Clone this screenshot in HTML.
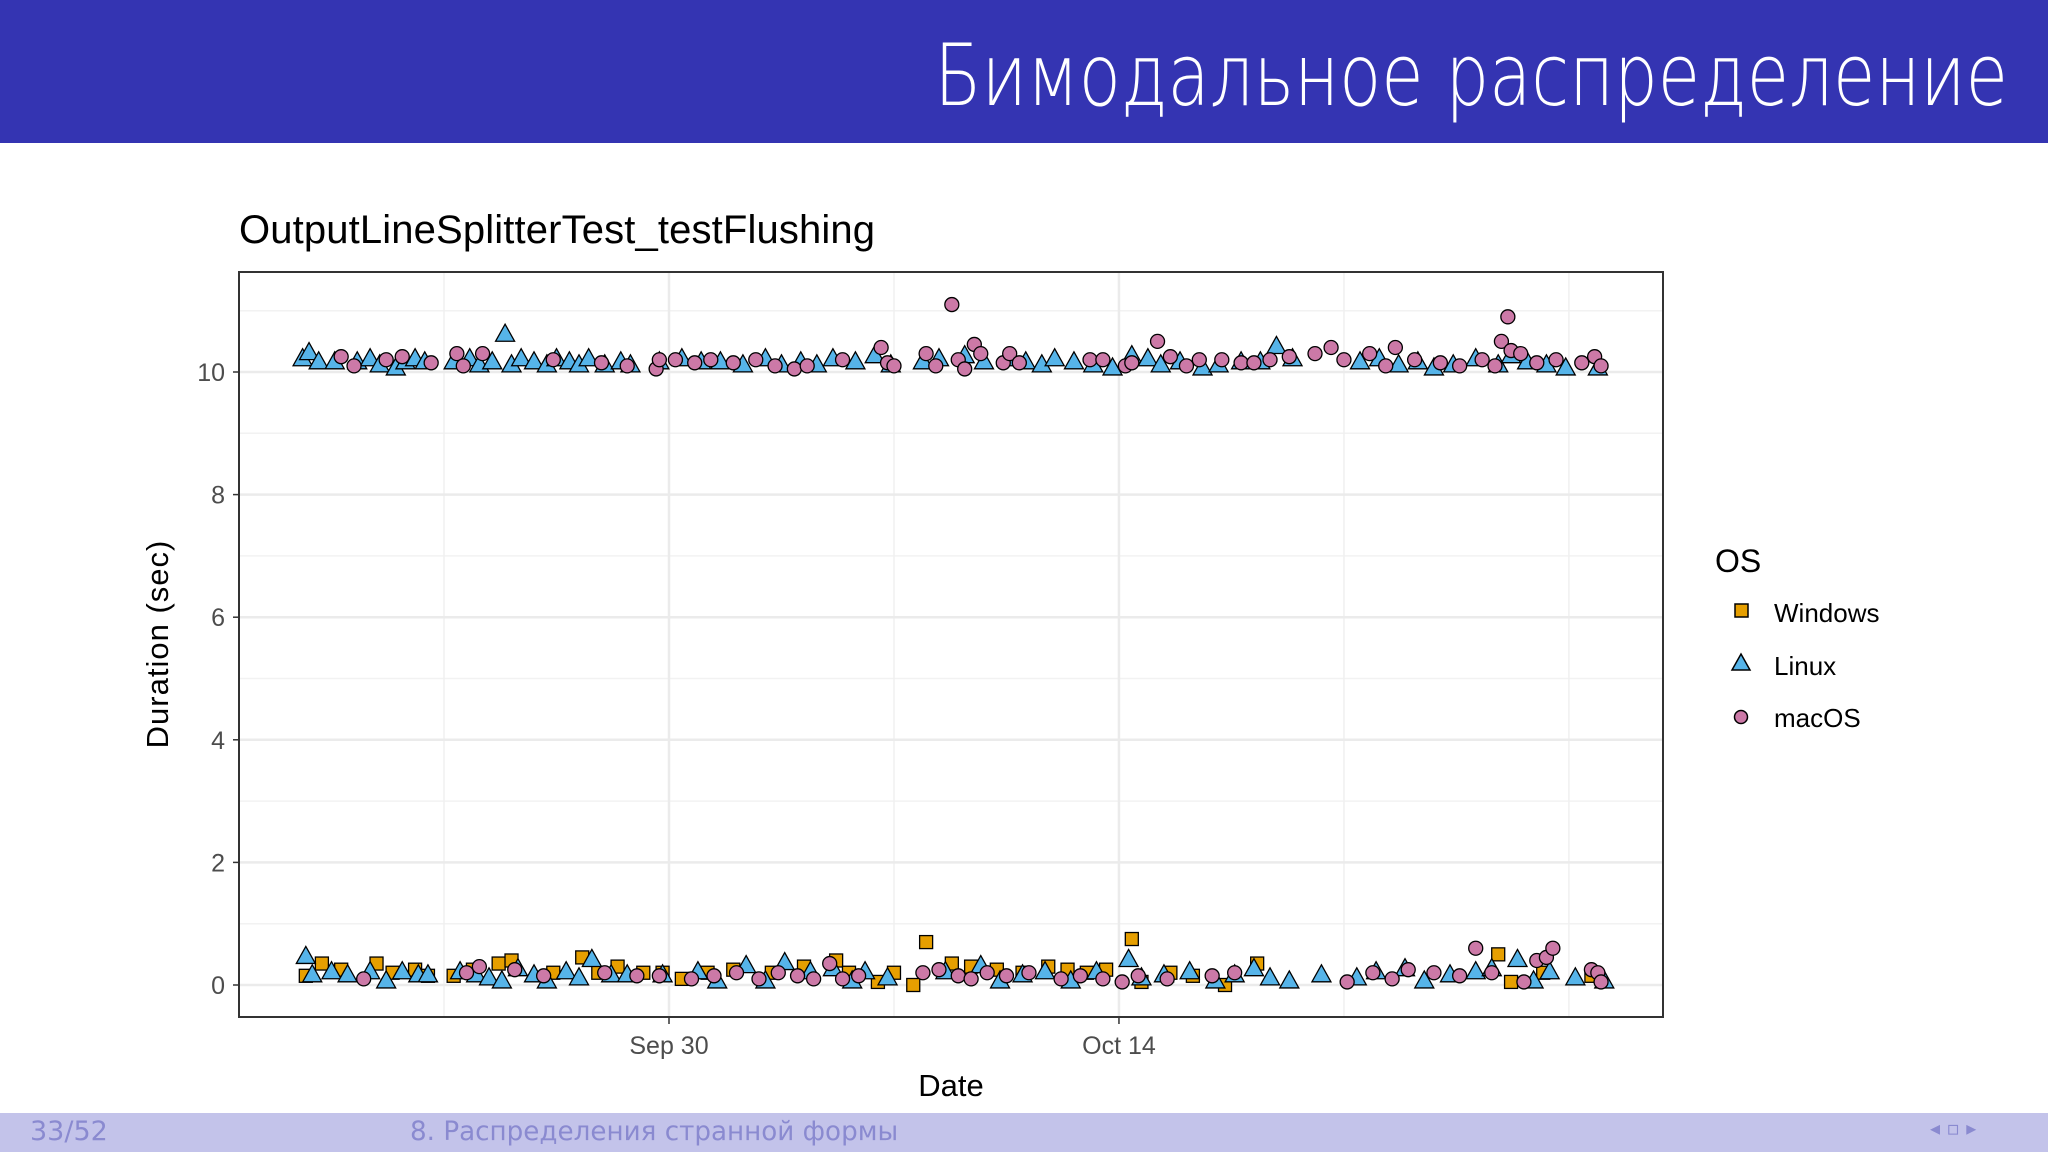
<!DOCTYPE html>
<html><head><meta charset="utf-8"><style>
body{margin:0;width:2048px;height:1152px;overflow:hidden;background:#fff;font-family:"Liberation Sans",sans-serif}
#hdr{position:absolute;left:0;top:0;width:2048px;height:143px;background:#3434b2}
#hdr span{position:absolute;right:40px;top:26px;color:#fff;font-size:86px;font-family:"DejaVu Sans","Liberation Sans",sans-serif;font-weight:200;transform:scaleX(0.8);transform-origin:right center;white-space:nowrap}
#ftr{position:absolute;left:0;top:1113px;width:2048px;height:39px;background:#c3c3ea;color:#8a8ad0;font-size:27px;font-family:"DejaVu Sans",sans-serif}
svg{position:absolute;left:0;top:0}
</style></head><body>
<div id="hdr"><span>Бимодальное распределение</span></div>
<div id="ftr">
<span style="position:absolute;left:30px;top:3px">33/52</span>
<span style="position:absolute;left:410px;top:3px;transform:scaleX(0.97);transform-origin:left">8. Распределения странной формы</span>
<span style="position:absolute;left:1930px;top:3px;font-size:20px">◂ ▫ ▸</span>
</div>
<svg id="chart" width="2048" height="1152">
<text x="239" y="243" font-size="40" fill="#000" textLength="636">OutputLineSplitterTest_testFlushing</text>
<g id="grid"></g><g id="marks"></g><g id="axes"></g>
<text x="951" y="1096" font-size="31" text-anchor="middle">Date</text>
<text transform="translate(168,644) rotate(-90)" font-size="31" text-anchor="middle" letter-spacing="1">Duration (sec)</text>
<g>
<text x="1715" y="572" font-size="32">OS</text>
<g><rect x="1735" y="604" width="13" height="13" fill="#e69f00" stroke="#000" stroke-width="1.5"/><text x="1774" y="622" font-size="26">Windows</text></g>
<g><polygon points="1741,654 1750,670 1732,670" fill="#56b4e9" stroke="#000" stroke-width="1.5"/><text x="1774" y="675" font-size="26">Linux</text></g>
<g><circle cx="1741" cy="717" r="6.5" fill="#cc79a7" stroke="#000" stroke-width="1.5"/><text x="1774" y="727" font-size="26">macOS</text></g>
</g>
</svg>
<script>
const yTicks=[0,2,4,6,8,10];
const xTickDays=[0,14];
const xTickLabels=["Sep 30","Oct 14"];
const xMinorDays=[-7,7,21,28];
const linuxDays=[-11.4,-11.2,-10.9,-10.4,-9.7,-9.3,-9.0,-8.5,-8.2,-7.9,-7.6,-6.7,-6.2,-5.9,-5.5,-5.1,-4.9,-4.6,-4.2,-3.8,-3.5,-3.1,-2.8,-2.5,-2.0,-1.5,-1.2,-0.3,0.4,1.0,1.6,2.3,3.0,3.5,4.1,4.6,5.1,5.8,6.4,6.9,7.9,8.4,9.2,9.8,10.5,11.1,11.6,12.0,12.6,13.2,13.8,14.4,14.9,15.3,15.9,16.6,17.1,17.8,18.4,18.9,19.4,21.5,22.1,22.7,23.3,23.8,24.4,25.1,25.8,26.2,26.7,27.3,27.9,28.9,
-11.3,-11.1,-10.5,-10.0,-9.3,-8.8,-8.3,-7.8,-7.5,-6.5,-6.0,-5.6,-5.2,-4.7,-4.2,-3.8,-3.2,-2.8,-2.4,-1.8,-1.3,-0.2,0.9,1.5,2.4,3.0,3.6,4.4,5.1,5.7,6.1,6.8,8.6,9.7,10.3,11.0,11.7,12.5,13.3,14.3,14.7,15.4,16.2,17.0,17.6,18.2,18.7,19.3,20.3,21.4,22.0,22.9,23.5,24.3,25.1,25.6,26.4,26.9,27.4,28.2,29.1];
const linuxVals=[10.2,10.3,10.15,10.15,10.15,10.2,10.1,10.05,10.15,10.2,10.15,10.15,10.2,10.1,10.15,10.6,10.1,10.2,10.15,10.1,10.2,10.15,10.1,10.2,10.1,10.15,10.1,10.15,10.2,10.15,10.15,10.1,10.2,10.1,10.15,10.1,10.2,10.15,10.25,10.1,10.15,10.2,10.25,10.15,10.2,10.15,10.1,10.2,10.15,10.1,10.05,10.25,10.2,10.1,10.15,10.05,10.1,10.15,10.15,10.4,10.2,10.15,10.2,10.1,10.15,10.05,10.1,10.2,10.1,10.25,10.15,10.1,10.05,10.05,
0.45,0.15,0.2,0.15,0.2,0.05,0.2,0.15,0.15,0.2,0.15,0.1,0.05,0.25,0.15,0.05,0.2,0.1,0.4,0.15,0.15,0.15,0.2,0.05,0.3,0.05,0.35,0.2,0.25,0.05,0.2,0.1,0.2,0.3,0.05,0.15,0.2,0.05,0.2,0.4,0.1,0.15,0.2,0.05,0.15,0.25,0.1,0.05,0.15,0.1,0.2,0.25,0.05,0.15,0.2,0.25,0.4,0.05,0.2,0.1,0.05];
const macDays=[-10.2,-9.8,-8.8,-8.3,-7.4,-6.6,-6.4,-5.8,-3.6,-2.1,-1.3,-0.4,-0.3,0.2,0.8,1.3,2.0,2.7,3.3,3.9,4.3,5.4,6.6,6.8,7.0,8.0,8.3,8.8,9.0,9.2,9.5,9.7,10.4,10.6,10.9,13.1,13.5,14.2,14.4,15.2,15.6,16.1,16.5,17.2,17.8,18.2,18.7,19.3,20.1,20.6,21.0,21.8,22.3,22.6,23.2,24.0,24.6,25.3,25.7,25.9,26.1,26.2,26.5,27.0,27.6,28.4,28.8,29.0,
-9.5,-6.3,-5.9,-4.8,-3.9,-2.0,-1.0,-0.3,0.7,1.4,2.1,2.8,3.4,4.0,4.5,5.0,5.4,5.9,7.9,8.4,9.0,9.4,9.9,10.5,11.2,12.2,12.8,13.5,14.1,14.6,15.5,16.9,17.6,21.1,21.9,22.5,23.0,23.8,24.6,25.1,25.6,26.6,27.0,27.3,27.5,28.7,28.9,29.0];
const macVals=[10.25,10.1,10.2,10.25,10.15,10.3,10.1,10.3,10.2,10.15,10.1,10.05,10.2,10.2,10.15,10.2,10.15,10.2,10.1,10.05,10.1,10.2,10.4,10.15,10.1,10.3,10.1,11.1,10.2,10.05,10.45,10.3,10.15,10.3,10.15,10.2,10.2,10.1,10.15,10.5,10.25,10.1,10.2,10.2,10.15,10.15,10.2,10.25,10.3,10.4,10.2,10.3,10.1,10.4,10.2,10.15,10.1,10.2,10.1,10.5,10.9,10.35,10.3,10.15,10.2,10.15,10.25,10.1,
0.1,0.2,0.3,0.25,0.15,0.2,0.15,0.15,0.1,0.15,0.2,0.1,0.2,0.15,0.1,0.35,0.1,0.15,0.2,0.25,0.15,0.1,0.2,0.15,0.2,0.1,0.15,0.1,0.05,0.15,0.1,0.15,0.2,0.05,0.2,0.1,0.25,0.2,0.15,0.6,0.2,0.05,0.4,0.45,0.6,0.25,0.2,0.05];
const winDays=[-11.3,-10.8,-10.2,-9.1,-8.6,-7.9,-7.5,-6.7,-6.1,-5.3,-4.9,-3.6,-2.7,-2.2,-1.6,-0.8,-0.2,0.4,1.2,2.0,3.2,4.2,5.2,5.6,6.5,7.0,7.6,8.0,8.8,9.4,10.2,11.0,11.8,12.4,13.0,13.6,14.4,14.7,15.6,16.3,17.3,18.3,25.8,26.2,27.2,28.7];
const winVals=[0.15,0.35,0.25,0.35,0.2,0.25,0.15,0.15,0.25,0.35,0.4,0.2,0.45,0.2,0.3,0.2,0.2,0.1,0.2,0.25,0.2,0.3,0.4,0.2,0.05,0.2,0.0,0.7,0.35,0.3,0.25,0.2,0.3,0.25,0.2,0.25,0.75,0.05,0.2,0.15,0.0,0.35,0.5,0.05,0.2,0.15];

const X0=239,X1=1663,Y0=272,Y1=1017;
const xs=d=>669+d*32.14;
const ys=v=>985-v*61.3;
const NS="http://www.w3.org/2000/svg";
function mk(tag,parent,attrs){const e=document.createElementNS(NS,tag);for(const k in attrs)e.setAttribute(k,attrs[k]);parent.appendChild(e);return e;}
const grid=document.getElementById('grid'),marks=document.getElementById('marks'),axes=document.getElementById('axes');
const bg=mk('rect',grid,{x:X0,y:Y0,width:X1-X0,height:Y1-Y0,fill:'#fff'});


for(let v=1;v<=11;v+=2){const l=mk('line',grid,{x1:X0,x2:X1,y1:ys(v),y2:ys(v),stroke:'#f2f2f2','stroke-width':1.5});

}
xMinorDays.forEach(d=>{const l=mk('line',grid,{x1:xs(d),x2:xs(d),y1:Y0,y2:Y1,stroke:'#f0f0f0','stroke-width':1.5});

});
yTicks.forEach(v=>{const l=mk('line',grid,{x1:X0,x2:X1,y1:ys(v),y2:ys(v),stroke:'#ebebeb','stroke-width':2.5});


mk('line',axes,{x1:X0-6,x2:X0,y1:ys(v),y2:ys(v),stroke:'#333','stroke-width':1.5});
const t=mk('text',axes,{x:X0-14,y:ys(v)+9,'font-size':25,'text-anchor':'end',fill:'#4d4d4d'});t.textContent=v;

});
xTickDays.forEach((d,i)=>{const l=mk('line',grid,{x1:xs(d),x2:xs(d),y1:Y0,y2:Y1,stroke:'#ebebeb','stroke-width':2.5});


mk('line',axes,{x1:xs(d),x2:xs(d),y1:Y1,y2:Y1+7,stroke:'#333','stroke-width':1.5});
const t=mk('text',axes,{x:xs(d),y:Y1+37,'font-size':25,'text-anchor':'middle',fill:'#4d4d4d'});t.textContent=xTickLabels[i];

});
const fr=mk('rect',axes,{x:X0,y:Y0,width:X1-X0,height:Y1-Y0,fill:'none',stroke:'#333','stroke-width':2});


winDays.forEach((d,i)=>{const x=xs(d),y=ys(winVals[i]);
const e=mk('rect',marks,{x:x-6.5,y:y-6.5,width:13,height:13,fill:'#e69f00',stroke:'#000','stroke-width':1.3});

});
linuxDays.forEach((d,i)=>{const x=xs(d),y=ys(linuxVals[i]);
const e=mk('polygon',marks,{points:`${x},${y-11} ${x+9.5},${y+6} ${x-9.5},${y+6}`,fill:'#56b4e9',stroke:'#000','stroke-width':1.3});

});
macDays.forEach((d,i)=>{const e=mk('circle',marks,{cx:xs(d),cy:ys(macVals[i]),r:7,fill:'#cc79a7',stroke:'#000','stroke-width':1.3});

});
</script>
</body></html>
